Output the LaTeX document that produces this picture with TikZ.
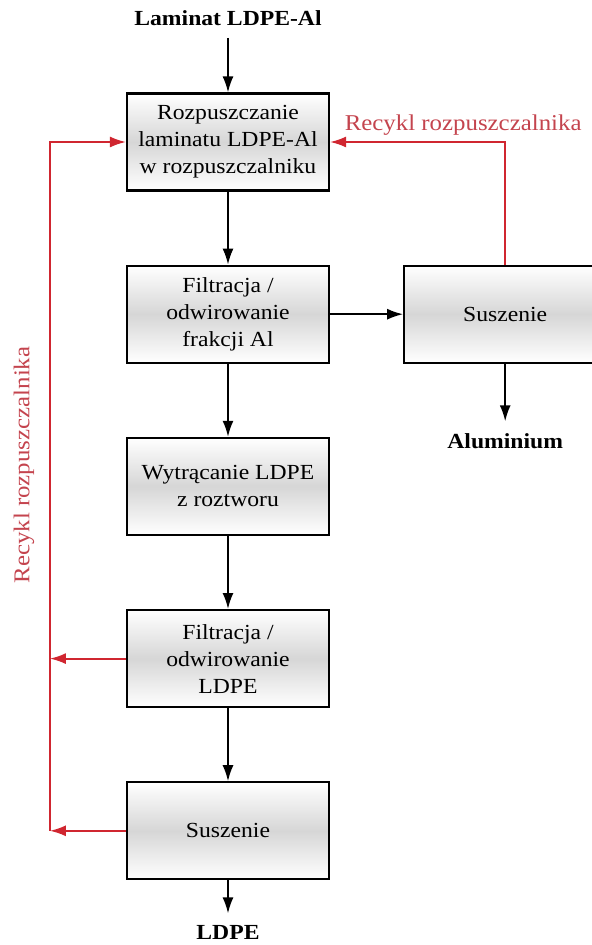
\documentclass[tikz,border=0pt]{standalone}
\usepackage{fontspec}
\setmainfont{Liberation Serif}[FakeStretch=1.1]
\usetikzlibrary{positioning,arrows.meta}
\definecolor{recred}{RGB}{208,38,48}
\definecolor{rectext}{RGB}{196,68,78}

\begin{document}
\begin{tikzpicture}[auto,
    node distance= 36.5pt and 36.5pt,
    font=\fontsize{10.75}{13.5}\selectfont,
    procnode/.style={rectangle, draw=black, line width=1.1pt, top color=white, bottom color=white, middle color=gray!32, minimum width=101pt, minimum height=48.5pt, align=center, inner sep=2pt},
    endnode/.style={font=\fontsize{10.75}{13.5}\selectfont\bfseries, inner sep=2pt, outer sep=4pt},
    flow/.style={-{Latex[length=8pt,width=5.5pt]}, line width=0.9pt},
    recline/.style={draw=recred, line width=0.9pt},
    recnote/.style={text=rectext, font=\fontsize{11.3}{13.5}\selectfont, inner sep=1pt},
]
\useasboundingbox (-114pt,71pt) rectangle (182pt,-401.5pt);

%Nodes
\node[procnode] (proc1) {Rozpuszczanie\\laminatu LDPE-Al\\w rozpuszczalniku};
\node[procnode] (proc2) [below=of proc1] {Filtracja /\\odwirowanie\\frakcji Al};
\node[procnode] (proc3) [below=of proc2] {Wytrącanie LDPE\\z roztworu};
\node[procnode] (proc4) [below=of proc3] {Filtracja /\\odwirowanie\\LDPE};
\node[procnode] (proc5) [below=of proc4] {Suszenie};
\node[procnode] (procAl) [right=of proc2] {Suszenie};

\node[endnode] (laminat) [above=27.25pt of proc1] {Laminat LDPE-Al};
\node[endnode] (aluminium) [below=28.75pt of procAl] {Aluminium};
\node[endnode] (ldpe) [below=16.5pt of proc5] {LDPE};

%Lines
\draw[flow] (laminat) -- (proc1);
\draw[flow] (proc1) -- (proc2);
\draw[flow] (proc2) -- (proc3);
\draw[flow] (proc3) -- (proc4);
\draw[flow] (proc4) -- (proc5);
\draw[flow] (proc5) -- (ldpe);
\draw[flow] (proc2) -- (procAl);
\draw[flow] (procAl) -- (aluminium);

%Recykl
\coordinate (recTop) at ([xshift=-38pt]proc1.west);
\coordinate (recMid) at (proc4.west -| recTop);
\coordinate (recBot) at (proc5.west -| recTop);

\draw[recline, flow] (procAl.north) |- (proc1.east)
    node[recnote, pos=0.62, above=2pt] {Recykl rozpuszczalnika};
\draw[recline, flow] (proc4.west) -- (recMid);
\draw[recline, flow] (proc5.west) -- (recBot);
\draw[recline, flow] (recBot) -- (recTop) -- (proc1.west);
\node[recnote, rotate=90] (recV) at ([xshift=-13pt, yshift=-161.5pt]recTop) {Recykl rozpuszczalnika};
\end{tikzpicture}
\end{document}
